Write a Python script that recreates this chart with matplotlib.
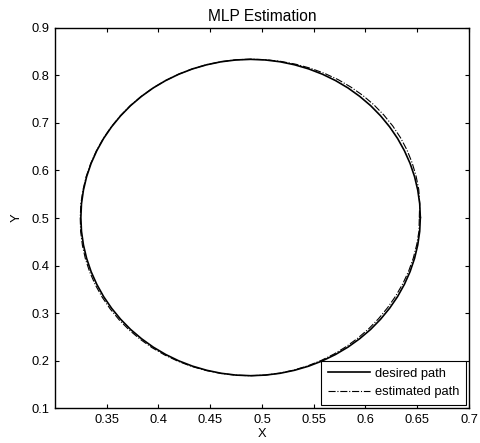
import matplotlib
matplotlib.use('Agg')
import matplotlib.pyplot as plt

plt.rcParams['font.family'] = ['Liberation Sans', 'DejaVu Sans']
plt.rcParams['font.size'] = 9.3

# points, every 5 degrees round the path
desired_x = [0.6530, 0.6524, 0.6505, 0.6474, 0.6431, 0.6376, 0.6310, 0.6233, 0.6146,
             0.6050, 0.5944, 0.5831, 0.5710, 0.5583, 0.5451, 0.5314, 0.5175, 0.5033,
             0.4890, 0.4747, 0.4605, 0.4466, 0.4329, 0.4197, 0.4070, 0.3949, 0.3836,
             0.3730, 0.3634, 0.3547, 0.3470, 0.3404, 0.3349, 0.3306, 0.3275, 0.3256,
             0.3250, 0.3256, 0.3275, 0.3306, 0.3349, 0.3404, 0.3470, 0.3547, 0.3634,
             0.3730, 0.3836, 0.3949, 0.4070, 0.4197, 0.4329, 0.4466, 0.4605, 0.4747,
             0.4890, 0.5033, 0.5175, 0.5314, 0.5451, 0.5583, 0.5710, 0.5831, 0.5944,
             0.6050, 0.6146, 0.6233, 0.6310, 0.6376, 0.6431, 0.6474, 0.6505, 0.6524]
desired_y = [0.5010, 0.5300, 0.5588, 0.5872, 0.6149, 0.6417, 0.6675, 0.6920, 0.7151,
             0.7365, 0.7561, 0.7738, 0.7894, 0.8028, 0.8139, 0.8226, 0.8289, 0.8327,
             0.8340, 0.8327, 0.8289, 0.8226, 0.8139, 0.8028, 0.7894, 0.7738, 0.7561,
             0.7365, 0.7151, 0.6920, 0.6675, 0.6417, 0.6149, 0.5872, 0.5588, 0.5300,
             0.5010, 0.4720, 0.4432, 0.4148, 0.3871, 0.3603, 0.3345, 0.3100, 0.2869,
             0.2655, 0.2459, 0.2282, 0.2126, 0.1992, 0.1881, 0.1794, 0.1731, 0.1693,
             0.1680, 0.1693, 0.1731, 0.1794, 0.1881, 0.1992, 0.2126, 0.2282, 0.2459,
             0.2655, 0.2869, 0.3100, 0.3345, 0.3603, 0.3871, 0.4148, 0.4432, 0.4720]

estimated_x = [0.6520, 0.6524, 0.6515, 0.6489, 0.6451, 0.6401, 0.6338, 0.6263, 0.6176,
               0.6080, 0.5974, 0.5859, 0.5737, 0.5606, 0.5470, 0.5329, 0.5185, 0.5038,
               0.4890, 0.4745, 0.4602, 0.4462, 0.4325, 0.4193, 0.4066, 0.3945, 0.3832,
               0.3726, 0.3630, 0.3543, 0.3466, 0.3400, 0.3345, 0.3301, 0.3270, 0.3250,
               0.3244, 0.3248, 0.3265, 0.3294, 0.3336, 0.3390, 0.3456, 0.3533, 0.3620,
               0.3717, 0.3823, 0.3937, 0.4060, 0.4189, 0.4322, 0.4462, 0.4603, 0.4747,
               0.4891, 0.5034, 0.5174, 0.5310, 0.5443, 0.5572, 0.5697, 0.5815, 0.5927,
               0.6032, 0.6127, 0.6214, 0.6292, 0.6360, 0.6417, 0.6462, 0.6495, 0.6517]
estimated_y = [0.5010, 0.5305, 0.5598, 0.5882, 0.6161, 0.6432, 0.6692, 0.6939, 0.7171,
               0.7385, 0.7581, 0.7756, 0.7912, 0.8043, 0.8152, 0.8236, 0.8296, 0.8332,
               0.8345, 0.8330, 0.8290, 0.8226, 0.8138, 0.8026, 0.7892, 0.7735, 0.7558,
               0.7362, 0.7148, 0.6917, 0.6672, 0.6414, 0.6146, 0.5869, 0.5585, 0.5297,
               0.5007, 0.4715, 0.4425, 0.4140, 0.3861, 0.3592, 0.3333, 0.3087, 0.2856,
               0.2642, 0.2447, 0.2271, 0.2116, 0.1984, 0.1874, 0.1789, 0.1728, 0.1691,
               0.1679, 0.1694, 0.1734, 0.1799, 0.1888, 0.2001, 0.2137, 0.2294, 0.2472,
               0.2669, 0.2882, 0.3113, 0.3357, 0.3614, 0.3880, 0.4155, 0.4437, 0.4723]

x_ticks = [0.35, 0.4, 0.45, 0.5, 0.55, 0.6, 0.65, 0.7]
x_labels = ['0.35', '0.4', '0.45', '0.5', '0.55', '0.6', '0.65', '0.7']
y_ticks = [0.1, 0.2, 0.3, 0.4, 0.5, 0.6, 0.7, 0.8, 0.9]
y_labels = ['0.1', '0.2', '0.3', '0.4', '0.5', '0.6', '0.7', '0.8', '0.9']

fig = plt.figure(figsize=(4.81, 4.43), dpi=100)
ax = fig.add_axes([0.1143, 0.079, 0.8607, 0.8578])

ax.plot(desired_x + desired_x[:1], desired_y + desired_y[:1], 'k-', lw=1.2, label='desired path')
ax.plot(estimated_x + estimated_x[:1], estimated_y + estimated_y[:1], 'k-.', lw=0.8, label='estimated path')

ax.set_xlim(0.3, 0.7)
ax.set_ylim(0.1, 0.9)
ax.set_xticks(x_ticks)
ax.set_xticklabels(x_labels)
ax.set_yticks(y_ticks)
ax.set_yticklabels(y_labels)
ax.tick_params(direction='in', length=3, width=0.8, top=True, right=True, pad=4)
for s in ax.spines.values():
    s.set_linewidth(1.0)

ax.set_title('MLP Estimation', pad=5)
ax.set_xlabel('X', labelpad=2)
ax.set_ylabel('Y', labelpad=6)

leg = ax.legend(loc='lower right', fancybox=False, framealpha=1, edgecolor='black',
                borderaxespad=0.2, handlelength=3.2, handletextpad=0.4,
                labelspacing=0.5, borderpad=0.55)
leg.get_frame().set_linewidth(0.8)

fig.savefig('out.png', dpi=100)
